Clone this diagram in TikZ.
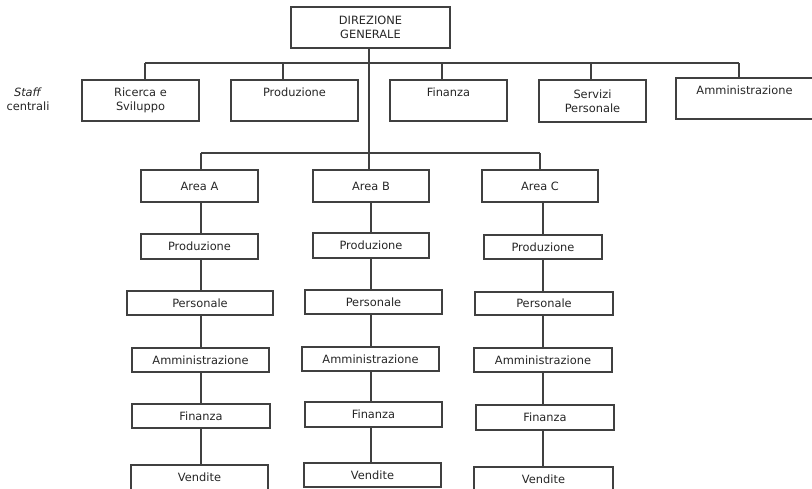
\documentclass[tikz,border=0pt]{standalone}
\usepackage{fontspec}
\setmainfont{DejaVu Sans}
\begin{document}
\begin{tikzpicture}[x=1pt,y=-1pt,
  line width=1.3pt,
  every node/.style={font=\fontsize{11.4}{14}\selectfont, text=black!85},
  box/.style={draw=black!75, rectangle, inner sep=0pt, align=center},
  topline/.style={text depth=16pt},
  link/.style={draw=black!75, line width=1.3pt}]
\useasboundingbox (0,0) rectangle (812,488);
\clip (0,0) rectangle (812,488);

% top management
\node[box, minimum width=159, minimum height=41] (dg) at (370.5,27.5) {DIREZIONE\\GENERALE};

% central staff units
\node[box, minimum width=117, minimum height=41] (s1) at (140.5,100.5) {Ricerca e\\Sviluppo};
\node[box, topline, minimum width=127, minimum height=41] (s2) at (294.5,100.5) {Produzione};
\node[box, topline, minimum width=117, minimum height=41] (s3) at (448.5,100.5) {Finanza};
\node[box, minimum width=107, minimum height=42] (s4) at (592.5,101) {Servizi\\Personale};
\node[box, topline, minimum width=137, minimum height=41] (s5) at (744.5,98.5) {Amministrazione};

\node[align=center, inner sep=0pt] (stafflbl) at (28,99.5) {\textit{Staff}\\centrali};

% staff bus
\coordinate (b1) at (145,63);
\coordinate (b2) at (283,63);
\coordinate (b3) at (442,63);
\coordinate (b4) at (591,63);
\coordinate (b5) at (739,63);
\draw[link] (b1) -- (b5);
\draw[link] (b1) -- (b1 |- s1.north);
\draw[link] (b2) -- (b2 |- s2.north);
\draw[link] (b3) -- (b3 |- s3.north);
\draw[link] (b4) -- (b4 |- s4.north);
\draw[link] (b5) -- (b5 |- s5.north);

% column axes
\coordinate (colA) at (201,0);
\coordinate (colB) at (371,0);
\coordinate (colC) at (543,0);
\coordinate (trunk) at (369,0);

% business areas
\node[box, minimum width=117, minimum height=32] (aA) at (199.5,186) {Area A};
\node[box, minimum width=116, minimum height=32] (aB) at (371,186) {Area B};
\node[box, minimum width=116, minimum height=32] (aC) at (540,186) {Area C};

\coordinate (ba) at (201,153);
\coordinate (bc) at (540,153);
\draw[link] (ba) -- (bc);
\draw[link] (ba) -- (ba |- aA.north);
\draw[link] (bc) -- (bc |- aC.north);
\draw[link] (trunk |- dg.south) -- (trunk |- aB.north);

% functions of area A
\node[box, minimum width=117, minimum height=25] (pA) at (199.5,246.5) {Produzione};
\node[box, minimum width=146, minimum height=24] (rA) at (200,303) {Personale};
\node[box, minimum width=137, minimum height=24] (mA) at (200.5,360) {Amministrazione};
\node[box, minimum width=138, minimum height=24] (fA) at (201,416) {Finanza};
\node[box, minimum width=137, minimum height=25] (vA) at (199.5,477.5) {Vendite};

% functions of area B
\node[box, minimum width=116, minimum height=25] (pB) at (371,245.5) {Produzione};
\node[box, minimum width=137, minimum height=24] (rB) at (373.5,302) {Personale};
\node[box, minimum width=137, minimum height=24] (mB) at (370.5,359) {Amministrazione};
\node[box, minimum width=137, minimum height=25] (fB) at (373.5,414.5) {Finanza};
\node[box, minimum width=137, minimum height=24] (vB) at (372.5,475) {Vendite};

% functions of area C
\node[box, minimum width=118, minimum height=24] (pC) at (543,247) {Produzione};
\node[box, minimum width=138, minimum height=23] (rC) at (544,303.5) {Personale};
\node[box, minimum width=138, minimum height=24] (mC) at (543,360) {Amministrazione};
\node[box, minimum width=138, minimum height=25] (fC) at (545,417.5) {Finanza};
\node[box, minimum width=139, minimum height=25] (vC) at (543.5,479.5) {Vendite};

% vertical chains
\foreach \c/\u/\l in {colA/aA/pA, colA/pA/rA, colA/rA/mA, colA/mA/fA, colA/fA/vA,
                      colB/aB/pB, colB/pB/rB, colB/rB/mB, colB/mB/fB, colB/fB/vB,
                      colC/aC/pC, colC/pC/rC, colC/rC/mC, colC/mC/fC, colC/fC/vC}
  \draw[link] (\c |- \u.south) -- (\c |- \l.north);
\end{tikzpicture}
\end{document}
